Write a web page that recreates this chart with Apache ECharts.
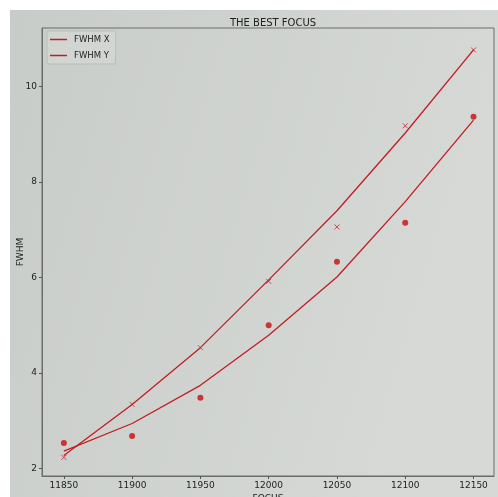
<!DOCTYPE html>
<html><head><meta charset="utf-8">
<script src="https://cdn.jsdelivr.net/npm/echarts@6/dist/echarts.min.js"></script>
<style>html,body{margin:0;padding:0;background:#fff}#c{width:498px;height:497px}</style>
</head><body><div id="c"></div>
<script>
const focus = [11850, 11900, 11950, 12000, 12050, 12100, 12150];
const fwhmXPoints = [2.23, 3.34, 4.53, 5.92, 7.06, 9.18, 10.77];
const fwhmYPoints = [2.53, 2.68, 3.48, 5.00, 6.33, 7.15, 9.37];
const fwhmXFit = [2.27, 3.34, 4.53, 5.95, 7.40, 9.03, 10.77];
const fwhmYFit = [2.36, 2.94, 3.74, 4.79, 6.01, 7.59, 9.30];
const xTicks = [11850, 11900, 11950, 12000, 12050, 12100, 12150];
const yTicks = [2, 4, 6, 8, 10];

const pair = (xs, ys) => xs.map((x, i) => [x, ys[i]]);
const red = '#c41c22';
const dot = '#c90d0d';
const font = 'DejaVu Sans';

const chart = echarts.init(document.getElementById('c'));
chart.setOption({
  animation: false,
  backgroundColor: {
    type: 'linear', x: 0, y: 0, x2: 1, y2: 0.3,
    colorStops: [{offset: 0, color: '#c8ccc8'}, {offset: 1, color: '#d6d9d5'}]
  },
  graphic: [
    {type: 'rect', left: 0, top: 0, shape: {width: 498, height: 10}, style: {fill: '#ffffff'}, z: 100},
    {type: 'rect', left: 0, top: 0, shape: {width: 10, height: 497}, style: {fill: '#ffffff'}, z: 100}
  ],
  title: {
    text: 'THE BEST FOCUS', left: 268, top: 13, textAlign: 'center',
    textStyle: {fontFamily: font, fontSize: 10, fontWeight: 'normal', color: '#222'}
  },
  legend: {
    left: 47, top: 31, orient: 'vertical',
    data: ['FWHM X', 'FWHM Y'],
    icon: 'rect', itemWidth: 17, itemHeight: 1.5, itemGap: 7,
    padding: [4, 6, 4, 3],
    borderColor: '#bbbcbb', borderWidth: 1, borderRadius: 2,
    backgroundColor: 'rgba(215,218,215,0.6)',
    textStyle: {fontFamily: font, fontSize: 8.5, color: '#222', padding: [0, 0, 0, 2]}
  },
  grid: {
    left: 42, right: 4, top: 28, bottom: 21,
    containLabel: false, outerBoundsMode: 'none',
    show: true, borderColor: '#6a6c6a', borderWidth: 1, backgroundColor: 'transparent'
  },
  xAxis: {
    type: 'value', min: 11834, max: 12165,
    name: 'FOCUS', nameLocation: 'middle', nameGap: 18, nameMoveOverlap: false,
    nameTextStyle: {fontFamily: font, fontSize: 9, color: '#222'},
    axisLine: {show: true, onZero: false, lineStyle: {color: '#6a6c6a'}},
    axisTick: {show: true, length: 3, customValues: xTicks, lineStyle: {color: '#555'}},
    axisLabel: {customValues: xTicks, formatter: v => String(v), fontFamily: font, fontSize: 9, color: '#222', margin: 5},
    splitLine: {show: false}
  },
  yAxis: {
    type: 'value', min: 1.84, max: 11.23,
    name: 'FWHM', nameLocation: 'middle', nameGap: 17, nameRotate: 90, nameMoveOverlap: false,
    nameTextStyle: {fontFamily: font, fontSize: 9, color: '#222'},
    axisLine: {show: true, onZero: false, lineStyle: {color: '#6a6c6a'}},
    axisTick: {show: true, length: 3, customValues: yTicks, lineStyle: {color: '#555'}},
    axisLabel: {customValues: yTicks, fontFamily: font, fontSize: 9, color: '#222', margin: 5},
    splitLine: {show: false}
  },
  series: [
    {name: 'FWHM X', type: 'line', data: pair(focus, fwhmXFit), showSymbol: false, symbol: 'none',
     lineStyle: {color: red, width: 1.3}, itemStyle: {color: red}, z: 3},
    {name: 'FWHM Y', type: 'line', data: pair(focus, fwhmYFit), showSymbol: false, symbol: 'none',
     lineStyle: {color: red, width: 1.3}, itemStyle: {color: red}, z: 3},
    {name: 'xpts', type: 'scatter', data: pair(focus, fwhmXPoints),
     symbol: 'path://M0,0L10,10M10,0L0,10', symbolSize: 5,
     itemStyle: {color: 'none', borderColor: '#c2262a', borderWidth: 1}, z: 4},
    {name: 'ypts', type: 'scatter', data: pair(focus, fwhmYPoints),
     symbol: 'circle', symbolSize: 6, itemStyle: {color: dot}, z: 4}
  ]
});
</script></body></html>
